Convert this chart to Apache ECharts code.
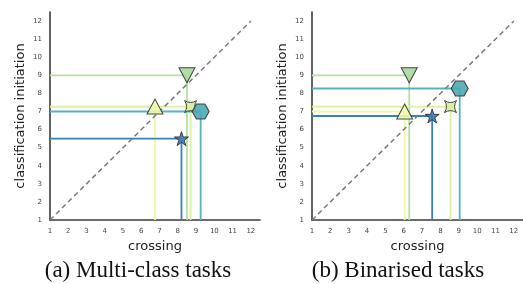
<!DOCTYPE html>
<html><head><meta charset="utf-8">
<script src="https://cdn.jsdelivr.net/npm/echarts@6/dist/echarts.min.js"></script>
<style>html,body{margin:0;padding:0;background:#fff}#c{width:523px;height:284px}</style>
</head><body><div id="c"></div>
<script>
// Data
const methods = ['triangleUp', 'triangleDown', 'fourStar', 'hexagon', 'star'];
const multiX = [6.75, 8.5, 8.7, 9.25, 8.2];
const multiY = [7.27, 9.0, 7.27, 7.0, 5.5];
const binX = [6.05, 6.3, 8.55, 9.05, 7.55];
const binY = [7.0, 9.0, 7.27, 8.27, 6.75];
const tickLabels = ['1','2','3','4','5','6','7','8','9','10','11','12'];
const diagonal = [[1, 1], [12, 12]];
const captions = ['(a) Multi-class tasks', '(b) Binarised tasks'];

const fillColors = ['#eef7ac', '#a9d99d', '#d9eea0', '#4ea9b3', '#3a79b9'];
const lineColors = ['#eef8a6', '#b6e0a6', '#dcefa2', '#57b2bb', '#3b7dbf'];
const symbols = [
  'triangle',
  'triangle',
  'path://M-1,-1 Q0,-0.35 1,-1 Q0.35,0 1,1 Q0,0.35 -1,1 Q-0.35,0 -1,-1 Z',
  'path://M-1,0 L-0.5,-0.866 L0.5,-0.866 L1,0 L0.5,0.866 L-0.5,0.866 Z',
  'path://M0,-1 L0.2245,-0.309 L0.951,-0.309 L0.363,0.118 L0.588,0.809 L0,0.382 L-0.588,0.809 L-0.363,0.118 L-0.951,-0.309 L-0.2245,-0.309 Z'
];
const sizes = [[16, 15], [16, 15], [12, 12], [17, 15], [14, 14]];
const rotates = [0, 180, 0, 0, 0];

const grids = [
  {left: 50, top: 12, width: 210, height: 208},
  {left: 312, top: 12, width: 211, height: 208}
];
function axisCommon(name, isY) {
  return {
    type: 'value', min: 1, max: 12.5, interval: 1,
    name: name, nameLocation: 'middle', nameGap: isY ? 23 : 17,
    nameTextStyle: {fontFamily: 'DejaVu Sans', fontSize: 13, color: '#222'},
    axisLine: {show: true, lineStyle: {color: '#3a3a3a', width: 1.6}},
    axisTick: {show: false},
    splitLine: {show: false},
    axisLabel: {
      showMaxLabel: false, fontFamily: 'DejaVu Sans', fontSize: 7, color: '#444', margin: 8,
      formatter: v => (Number.isInteger(v) && v <= 12) ? tickLabels[v - 1] : ''
    }
  };
}
const xAxes = [], yAxes = [], series = [];
[[multiX, multiY], [binX, binY]].forEach((d, gi) => {
  xAxes.push(Object.assign(axisCommon('crossing', false), {gridIndex: gi}));
  yAxes.push(Object.assign(axisCommon('classification initiation', true), {gridIndex: gi}));
  const xs = d[0], ys = d[1];
  methods.forEach((m, i) => {
    series.push({
      type: 'line', xAxisIndex: gi, yAxisIndex: gi, silent: true, animation: false,
      showSymbol: false, symbol: 'none',
      lineStyle: {color: lineColors[i], width: 1.8},
      data: [[1, ys[i]], [xs[i], ys[i]], [xs[i], 1]], z: 2
    });
  });
  series.push({
    type: 'line', xAxisIndex: gi, yAxisIndex: gi, silent: true, animation: false,
    showSymbol: false, symbol: 'none',
    lineStyle: {color: '#7a7a7a', width: 1.5, type: [5, 3.5]},
    data: diagonal, z: 3
  });
  methods.forEach((m, i) => {
    series.push({
      type: 'scatter', xAxisIndex: gi, yAxisIndex: gi, animation: false,
      symbol: symbols[i], symbolSize: sizes[i], symbolRotate: rotates[i],
      itemStyle: {color: fillColors[i], borderColor: '#333', borderWidth: 1, opacity: 0.9},
      data: [[xs[i], ys[i]]], z: 5 + i
    });
  });
});

const chart = echarts.init(document.getElementById('c'), null, {renderer: 'canvas'});
chart.setOption({
  animation: false,
  grid: grids,
  xAxis: xAxes,
  yAxis: yAxes,
  series: series,
  graphic: [
    {type: 'text', x: 138, y: 259, style: {text: captions[0], font: '23px "Liberation Serif"', fill: '#111', textAlign: 'center'}},
    {type: 'text', x: 398, y: 259, style: {text: captions[1], font: '23px "Liberation Serif"', fill: '#111', textAlign: 'center'}}
  ]
});
</script></body></html>
